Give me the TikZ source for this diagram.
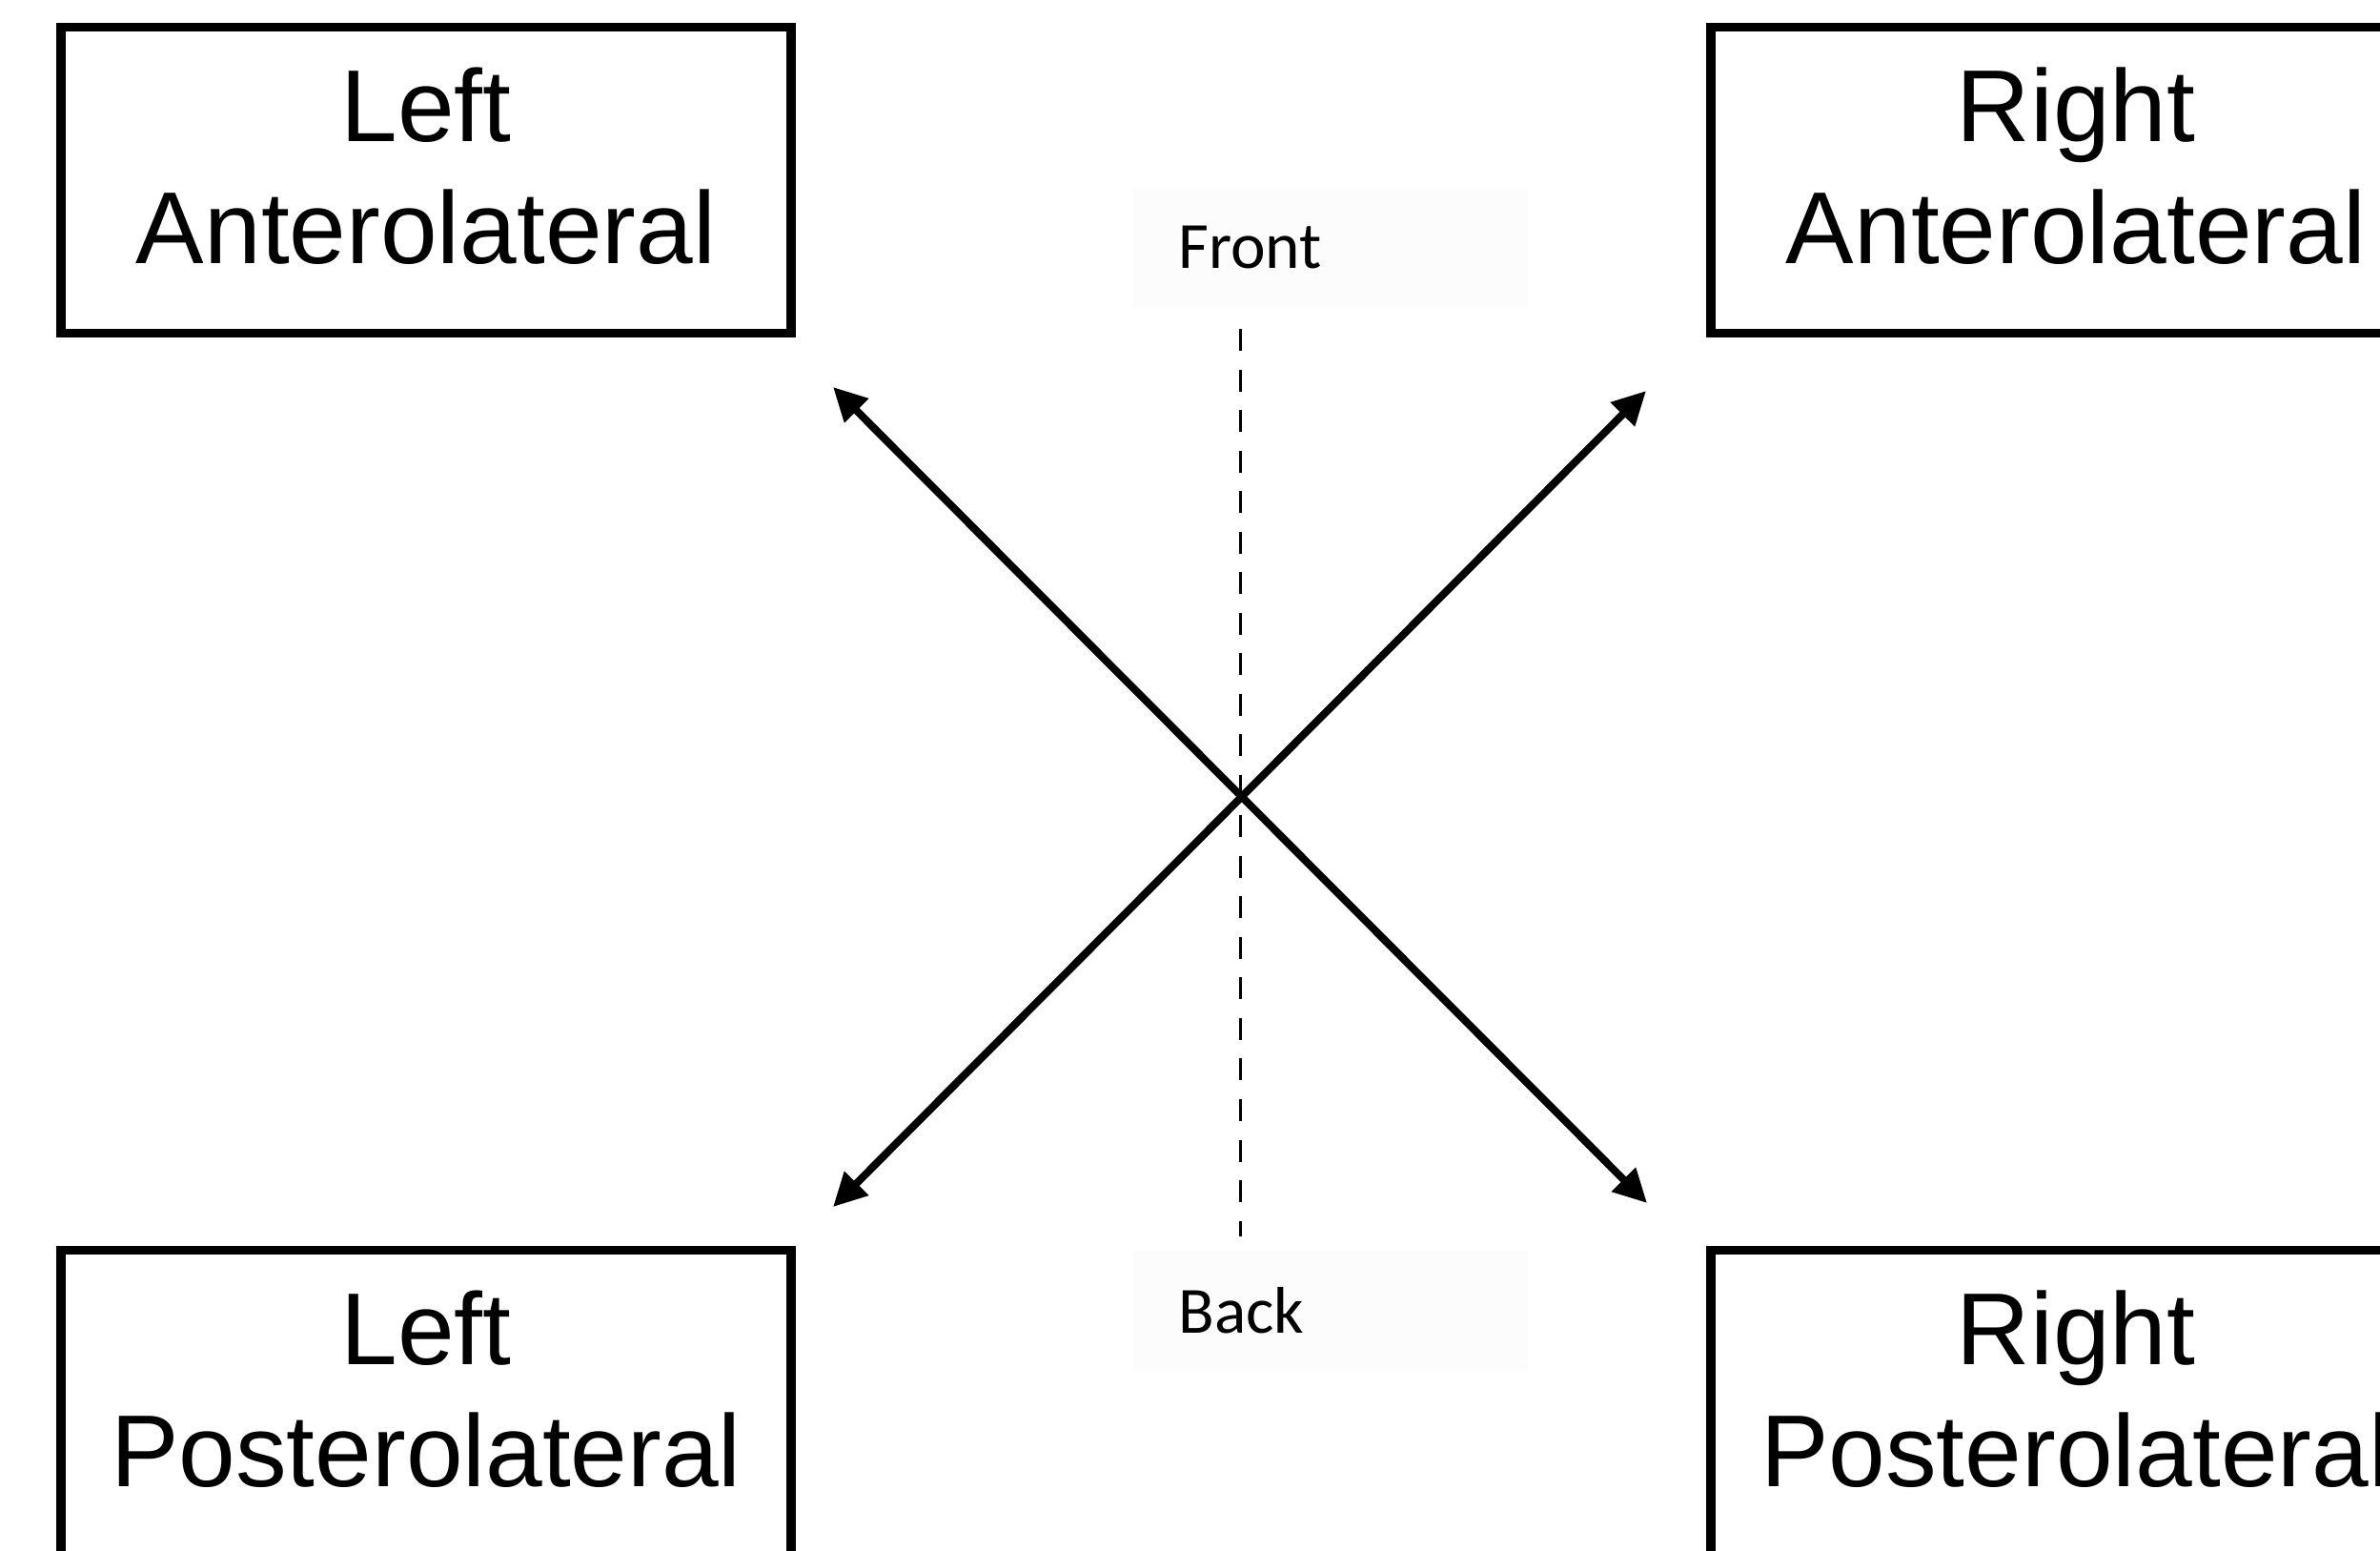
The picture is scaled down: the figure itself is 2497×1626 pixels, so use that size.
\documentclass[tikz,border=0pt]{standalone}
\usepackage{fontspec}
\setmainfont{Liberation Sans}
\newfontfamily\sidefont{Carlito}
\usetikzlibrary{arrows.meta}
\newcommand{\boxstrut}{\rule[-0.31cm]{0pt}{0.31cm}}
\begin{document}
\begin{tikzpicture}[x=0.01cm,y=-0.01cm,
		region/.style={draw=black, line width=0.095cm, minimum width=7.66cm, minimum height=3.21cm, align=center, font=\fontsize{30.5}{36.5}\selectfont},
		side/.style={fill=black!1, minimum width=4.13cm, minimum height=1.26cm, text width=3.19cm, inner xsep=0.47cm, align=left, font=\sidefont\fontsize{19.7}{24}\selectfont},
		axis/.style={black, line width=0.08cm, {Triangle[length=0.35cm,width=0.34cm]}-{Triangle[length=0.35cm,width=0.34cm]}}]
	\useasboundingbox (0,0) rectangle (2497,1626);
	\clip (0,0) rectangle (2497,1626);
	\fill [white] (0,0) rectangle (2497,1626);
	% the four corners
	\node [region] (LeftAnt) at (447,189) {Left\\Anterolateral\boxstrut};
	\node [region] (RightAnt) at (2178,189) {Right\\Anterolateral\boxstrut};
	\node [region] (LeftPost) at (447,1472) {Left\\Posterolateral\boxstrut};
	\node [region] (RightPost) at (2178,1472) {Right\\Posterolateral\boxstrut};
	% front and back
	\node [side] (Front) at (1396,260) {Front};
	\node [side] (Back) at (1396,1375) {Back};
	\coordinate (FrontEnd) at (1301,345);
	\coordinate (BackEnd) at (1301,1297);
	\draw [black, line width=0.03cm, dash pattern=on 0.23cm off 0.195cm] (FrontEnd) -- (BackEnd);
	% the two diagonals
	\coordinate (TipLA) at (874,406);
	\coordinate (TipRP) at (1728,1262);
	\coordinate (TipLP) at (874,1266);
	\coordinate (TipRA) at (1727,410);
	\draw [axis] (TipLA) -- (TipRP);
	\draw [axis] (TipLP) -- (TipRA);
\end{tikzpicture}
\end{document}
